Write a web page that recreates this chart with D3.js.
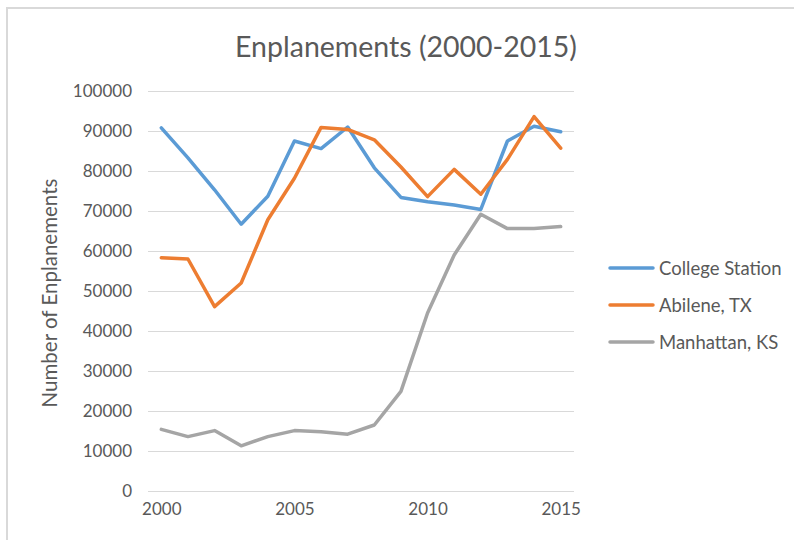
<!DOCTYPE html>
<html><head><meta charset="utf-8">
<script src="https://cdn.jsdelivr.net/npm/d3@7"></script>
<style>body{margin:0;background:#fff}svg text{font-family:Lato,"Open Sans",sans-serif;fill:#595959}</style>
</head><body>
<svg id="c" width="794" height="540"></svg>
<script>
const years = [2000,2001,2002,2003,2004,2005,2006,2007,2008,2009,2010,2011,2012,2013,2014,2015];
const collegeStation = [90800,83300,75300,66700,73700,87500,85600,91000,80800,73400,72300,71500,70400,87500,91200,89800];
const abilene = [58300,58000,46100,52000,67800,78200,90900,90400,87800,81000,73600,80400,74200,82900,93600,85700];
const manhattan = [15400,13600,15100,11300,13600,15100,14800,14200,16500,24900,44500,59000,69200,65600,65600,66100];
const seriesNames = ["College Station","Abilene, TX","Manhattan, KS"];
const colors = ["#5B9BD5","#ED7D31","#A5A5A5"];
const yTicks = [0,10000,20000,30000,40000,50000,60000,70000,80000,90000,100000];
const xTickLabels = [2000,2005,2010,2015];

const svg = d3.select("#c");
svg.append("rect").attr("x",7).attr("y",8).attr("width",800).attr("height",540)
  .attr("fill","#fff").attr("stroke","#D9D9D9").attr("stroke-width",2);

const L=148,R=574,T=91,B=491;
const x = d3.scalePoint().domain(years).range([L,R]).padding(0.5);
const y = d3.scaleLinear().domain([0,100000]).range([B,T]);

const gy = svg.append("g").attr("transform",`translate(${L},0)`)
  .call(d3.axisLeft(y).tickValues(yTicks).tickSize(-(R-L)).tickPadding(16).tickFormat(d3.format("d")));
gy.select(".domain").remove();
gy.selectAll("line").attr("stroke","#D9D9D9").attr("stroke-width",1);
gy.selectAll("text").attr("font-size",17).style("font-family","Lato").attr("fill","#595959");

const gx = svg.append("g").attr("transform",`translate(0,${B})`)
  .call(d3.axisBottom(x).tickValues(xTickLabels).tickSize(0).tickPadding(12).tickFormat(d3.format("d")));
gx.select(".domain").remove();
gx.selectAll("text").attr("font-size",17).attr("fill","#595959");

const data = [collegeStation, abilene, manhattan];
const line = d3.line().x((d,i)=>x(years[i])).y(d=>y(d));
data.forEach((s,k)=>{
  svg.append("path").datum(s).attr("d",line).attr("fill","none")
    .attr("stroke",colors[k]).attr("stroke-width",3.5).attr("stroke-linejoin","round").attr("stroke-linecap","round");
});

svg.append("text").attr("x",406).attr("y",57).attr("text-anchor","middle")
  .attr("font-size",28.5).text("Enplanements (2000-2015)");

svg.append("text").attr("transform","translate(57,293) rotate(-90)").attr("text-anchor","middle")
  .attr("font-size",20.5).text("Number of Enplanements");

const lg = svg.append("g");
seriesNames.forEach((n,k)=>{
  const yy = 268 + k*37;
  lg.append("line").attr("x1",610).attr("x2",653).attr("y1",yy).attr("y2",yy)
    .attr("stroke",colors[k]).attr("stroke-width",3.5).attr("stroke-linecap","round");
  lg.append("text").attr("x",659).attr("y",yy+6.5).attr("font-size",18.5).text(n);
});
</script>
</body></html>
